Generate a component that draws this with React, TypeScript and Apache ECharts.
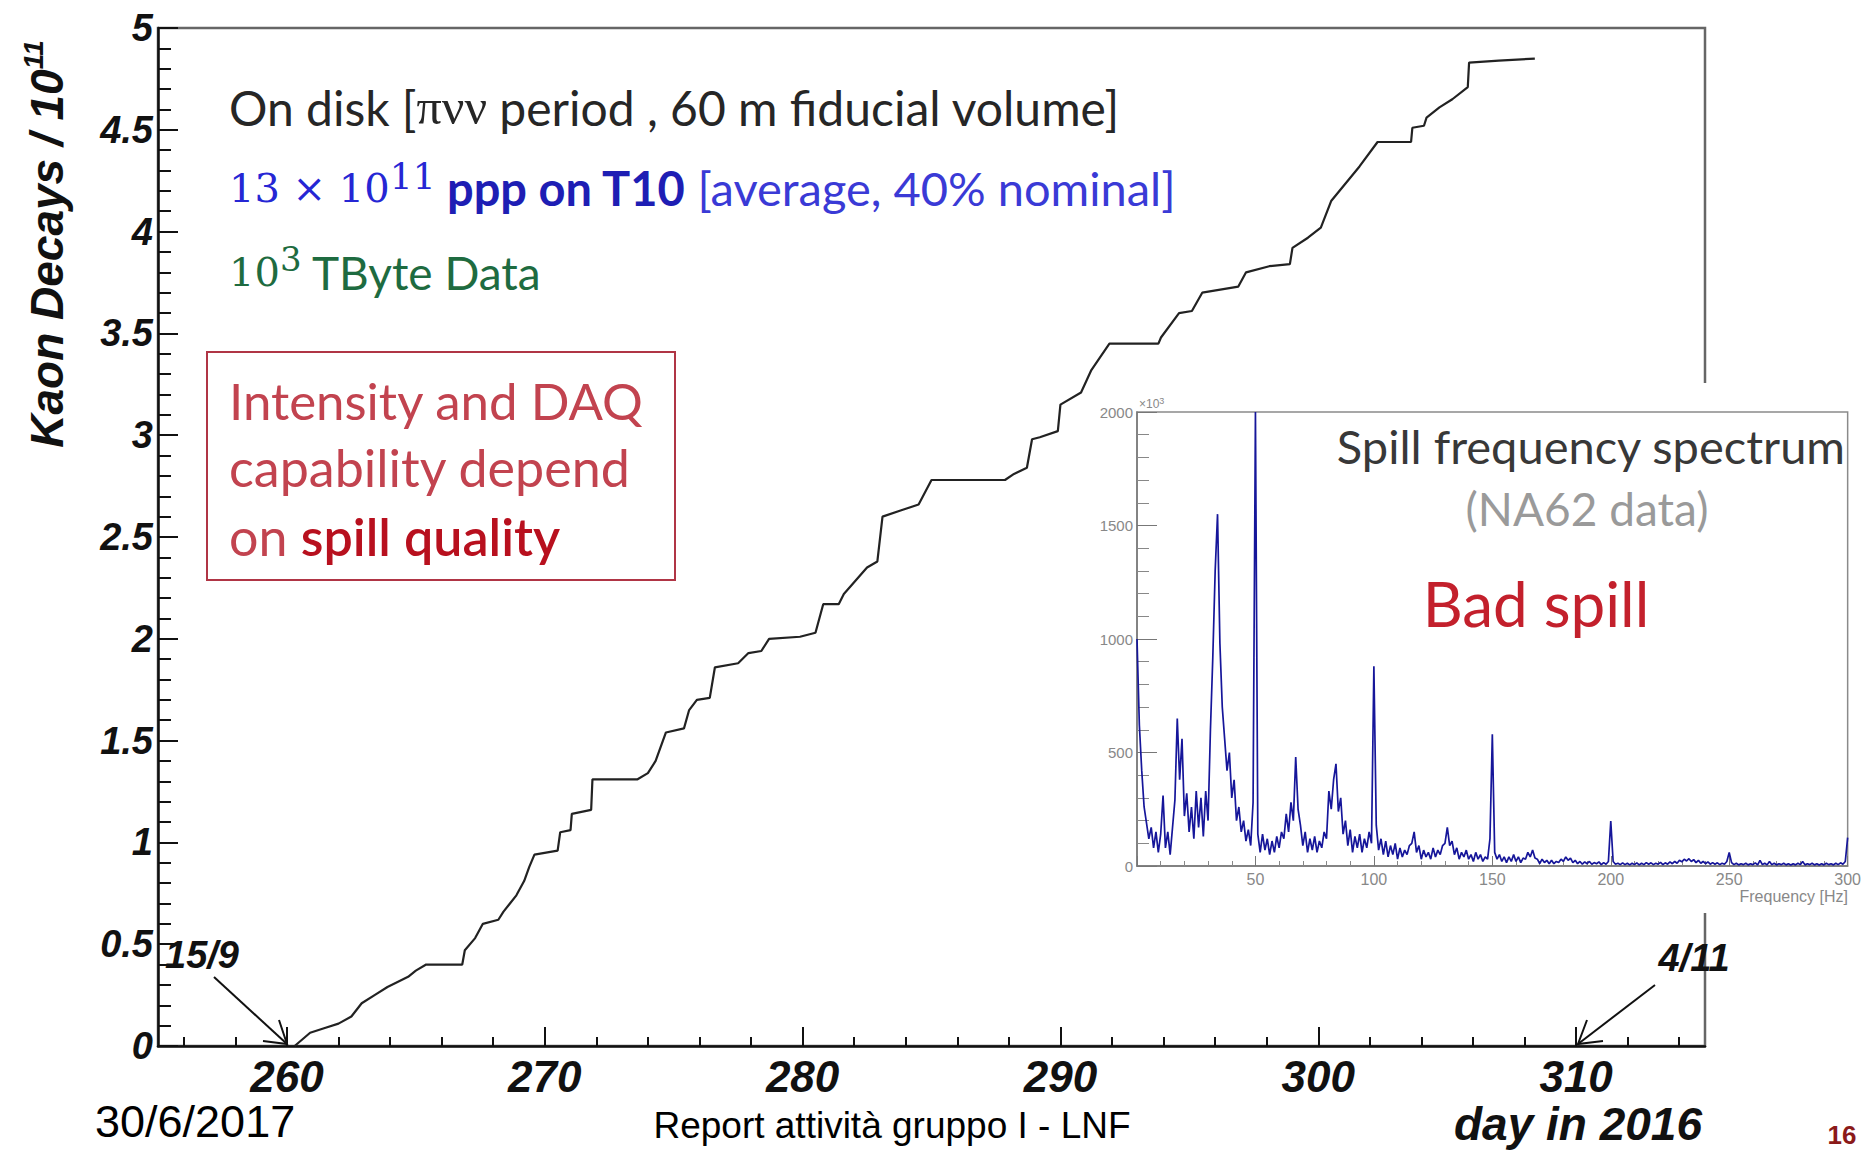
import React, { useEffect, useRef } from 'react';
import * as echarts from 'echarts';

// ---- main chart: cumulative kaon decays (x: day in 2016, y: decays / 1e11)
const DAYS = [260.3, 260.9, 261.5, 262.0, 262.5, 262.9, 263.4, 263.9, 264.7, 265.0, 265.4, 266.8, 266.9, 267.3, 267.6, 268.2, 268.4, 268.65, 268.9, 269.2, 269.4, 269.6, 270.5, 270.6, 271.0, 271.05, 271.8, 271.85, 273.6, 274.0, 274.3, 274.7, 275.4, 275.6, 275.9, 276.4, 276.6, 277.5, 277.9, 278.4, 278.7, 279.9, 280.5, 280.8, 281.4, 281.6, 282.5, 282.9, 283.1, 283.8, 284.5, 285.0, 287.85, 288.2, 288.7, 288.9, 289.2, 289.9, 290.0, 290.8, 291.2, 291.9, 293.8, 293.9, 294.6, 295.1, 295.5, 296.9, 297.2, 298.1, 298.9, 299.0, 299.6, 300.1, 300.5, 301.6, 302.3, 303.6, 303.65, 304.1, 304.2, 304.7, 305.2, 305.8, 305.85, 307.0, 308.4];
const KAON = [0, 0.065, 0.09, 0.11, 0.145, 0.21, 0.25, 0.29, 0.34, 0.37, 0.40, 0.40, 0.47, 0.53, 0.60, 0.62, 0.66, 0.70, 0.74, 0.81, 0.88, 0.94, 0.96, 1.05, 1.06, 1.14, 1.16, 1.31, 1.31, 1.34, 1.40, 1.54, 1.56, 1.65, 1.70, 1.71, 1.86, 1.88, 1.93, 1.94, 2.00, 2.01, 2.03, 2.17, 2.17, 2.22, 2.35, 2.38, 2.60, 2.63, 2.66, 2.78, 2.78, 2.81, 2.84, 2.98, 2.99, 3.02, 3.15, 3.21, 3.32, 3.45, 3.45, 3.48, 3.60, 3.61, 3.70, 3.73, 3.80, 3.83, 3.84, 3.92, 3.97, 4.02, 4.15, 4.32, 4.44, 4.44, 4.51, 4.52, 4.56, 4.61, 4.65, 4.71, 4.83, 4.84, 4.85];
const X_MAJOR = [260, 270, 280, 290, 300, 310];
const X_MINOR = [256, 258, 262, 264, 266, 268, 272, 274, 276, 278, 282, 284, 286, 288, 292, 294, 296, 298, 302, 304, 306, 308, 312, 314];

// ---- inset: spill frequency spectrum, one value per Hz (0..300), units of 10^3
const SPEC = [
  1000, 620, 420, 260, 190, 120, 170, 80, 150, 60,
  140, 310, 80, 150, 50, 170, 290, 650, 380, 560,
  220, 320, 150, 260, 120, 330, 170, 300, 130, 330,
  200, 600, 920, 1300, 1550, 980, 700, 560, 420, 500,
  300, 380, 200, 260, 150, 200, 110, 160, 90, 280,
  2000, 140, 60, 140, 70, 120, 50, 110, 60, 130,
  80, 150, 120, 230, 150, 280, 200, 480, 250, 180,
  90, 150, 60, 120, 70, 130, 60, 110, 80, 150,
  120, 330, 250, 380, 450, 240, 300, 140, 200, 90,
  160, 60, 130, 80, 140, 60, 120, 80, 150, 100,
  880, 180, 70, 120, 50, 110, 40, 90, 50, 100,
  30, 80, 40, 70, 50, 90, 100, 150, 60, 90,
  30, 70, 40, 60, 30, 80, 40, 70, 50, 90,
  100, 170, 90, 110, 50, 80, 30, 60, 40, 70,
  30, 50, 20, 60, 30, 50, 20, 40, 30, 120,
  580, 60, 30, 50, 20, 40, 15, 40, 20, 50,
  20, 40, 15, 35, 30, 60, 40, 70, 35, 30,
  10, 30, 15, 25, 10, 25, 10, 20, 15, 30,
  20, 40, 25, 35, 15, 25, 10, 20, 8, 18,
  10, 20, 8, 15, 10, 18, 6, 15, 8, 20,
  198, 20, 8, 12, 6, 14, 6, 12, 5, 12,
  6, 14, 5, 12, 6, 15, 8, 14, 6, 12,
  8, 16, 6, 14, 8, 18, 10, 20, 12, 25,
  18, 30, 22, 32, 20, 28, 15, 25, 12, 20,
  10, 18, 8, 15, 8, 14, 6, 12, 8, 20,
  60, 15, 6, 12, 5, 10, 6, 12, 5, 10,
  6, 14, 5, 25, 6, 12, 5, 20, 6, 12,
  5, 10, 6, 12, 5, 10, 4, 10, 5, 12,
  6, 20, 5, 10, 6, 12, 5, 10, 4, 10,
  5, 12, 6, 10, 5, 12, 6, 14, 8, 20,
  125,
];

const ARIAL = 'Liberation Sans, Arial, sans-serif';
const SANS = 'Lato, Open Sans, sans-serif';
const SERIF = 'DejaVu Serif, serif';

function txt(x: number, y: number, text: string, style: any, extra: any = {}) {
  return {
    type: 'text',
    x,
    y,
    z: 20,
    ...extra,
    style: {
      text,
      x: 0,
      y: 0,
      align: 'left',
      textAlign: 'left',
      verticalAlign: 'middle',
      textVerticalAlign: 'middle',
      ...style,
    },
  };
}

function buildOption() {
  const lab = { fontFamily: ARIAL, fontWeight: 'bold', fontStyle: 'italic', color: '#111' };
  const labG = { fontFamily: ARIAL, fontWeight: 'bold', fontStyle: 'italic', fill: '#111' };
  const sup = (fill: string, size: number, fam = SERIF) => ({
    fontFamily: fam, fontSize: size, fill, lineHeight: 30, verticalAlign: 'top',
  });
  const tok = (fill: string, size: number, fam = SANS, weight: any = 'normal') => ({
    fontFamily: fam, fontSize: size, fill, fontWeight: weight, lineHeight: 60,
  });

  const graphic: any[] = [
    // white background of the inset picture
    { type: 'rect', z: 5, shape: { x: 1088, y: 383, width: 776, height: 530 }, style: { fill: '#fff' } },
    // y axis title
    txt(47, 244, '{t|Kaon Decays / 10}{s|11}', {
      align: 'center', textAlign: 'center',
      rich: {
        t: { ...labG, fontSize: 46, lineHeight: 56 },
        s: { ...labG, fontSize: 28, lineHeight: 22, verticalAlign: 'top' },
      },
    }, { rotation: Math.PI / 2 }),
    // x axis title
    txt(1578, 1124, 'day in 2016', { ...labG, fontSize: 46, align: 'center', textAlign: 'center' }),
    // date annotations
    txt(202, 955, '15/9', { ...labG, fontSize: 38, align: 'center', textAlign: 'center' }),
    txt(1694, 958, '4/11', { ...labG, fontSize: 38, align: 'center', textAlign: 'center' }),
    { type: 'line', z: 20, shape: { x1: 214, y1: 977, x2: 287, y2: 1044 }, style: { stroke: '#111', lineWidth: 2 } },
    { type: 'polyline', z: 20, shape: { points: [[263, 1041], [287, 1044], [279, 1020]] }, style: { stroke: '#111', lineWidth: 2, fill: 'none' } },
    { type: 'line', z: 20, shape: { x1: 1655, y1: 985, x2: 1578, y2: 1044 }, style: { stroke: '#111', lineWidth: 2 } },
    { type: 'polyline', z: 20, shape: { points: [[1587, 1020], [1578, 1044], [1603, 1041]] }, style: { stroke: '#111', lineWidth: 2, fill: 'none' } },
    // text block
    txt(229, 107, '{a|On disk [}{g|πνν}{a| period , 60 m fiducial volume]}', {
      rich: {
        a: tok('#262626', 48),
        g: tok('#262626', 50, 'Liberation Serif, serif'),
      },
    }),
    txt(229, 188, '{m|13 × 10}{s|11}{b| ppp on T10 }{r|[average, 40% nominal]}', {
      rich: {
        m: tok('#2626d4', 40, SERIF),
        s: sup('#2626d4', 36),
        b: tok('#1e1eb4', 47, SANS, 'bold'),
        r: tok('#3a3ad6', 47),
      },
    }),
    txt(229, 272, '{m|10}{s|3}{a| TByte Data}', {
      rich: {
        m: tok('#1e6b40', 40, SERIF),
        s: sup('#1e6b40', 34),
        a: tok('#1e6b40', 46),
      },
    }),
    // red box
    { type: 'rect', z: 20, shape: { x: 207, y: 352, width: 468, height: 228 }, style: { fill: 'none', stroke: '#b03545', lineWidth: 2 } },
    txt(229, 400, 'Intensity and DAQ', { fontFamily: SANS, fontSize: 51, fill: '#c2434f' }),
    txt(229, 467, 'capability depend', { fontFamily: SANS, fontSize: 52, fill: '#c2434f' }),
    txt(229, 536, '{a|on }{b|spill quality}', {
      rich: {
        a: tok('#c2434f', 52),
        b: tok('#b8101e', 52, SANS, 600),
      },
    }),
    // inset texts
    txt(1845, 446, 'Spill frequency spectrum', { fontFamily: SANS, fontSize: 47, fill: '#383838', align: 'right', textAlign: 'right' }),
    txt(1587, 508, '(NA62 data)', { fontFamily: SANS, fontSize: 46, fill: '#9a9a9a', align: 'center', textAlign: 'center' }),
    txt(1536, 603, 'Bad spill', { fontFamily: SANS, fontSize: 62, fill: '#c3202c', align: 'center', textAlign: 'center' }),
    txt(1139, 404, '{a|×10}{s|3}', {
      rich: {
        a: { fontFamily: ARIAL, fontSize: 12, fill: '#888', lineHeight: 16 },
        s: { fontFamily: ARIAL, fontSize: 9, fill: '#888', lineHeight: 8, verticalAlign: 'top' },
      },
    }),
    txt(1848, 896, 'Frequency [Hz]', { fontFamily: ARIAL, fontSize: 16, fill: '#888', align: 'right', textAlign: 'right' }),
    // footer
    txt(95, 1121, '30/6/2017', { fontFamily: ARIAL, fontSize: 45, lineHeight: 44, fill: '#000' }),
    txt(892, 1125, 'Report attività gruppo I - LNF', { fontFamily: ARIAL, fontSize: 37, fill: '#000', align: 'center', textAlign: 'center' }),
    txt(1842, 1135, '16', { fontFamily: ARIAL, fontSize: 26, fontWeight: 'bold', fill: '#8b1a1a', align: 'center', textAlign: 'center' }),
  ];

  return {
    animation: false,
    backgroundColor: '#fff',
    grid: [
      { left: 158, top: 28, width: 1547, height: 1018, show: true, borderColor: '#666', borderWidth: 2.5, backgroundColor: 'transparent' },
      { left: 1137, top: 412, width: 711, height: 454, show: true, borderColor: '#8a8a8a', borderWidth: 1.5, backgroundColor: 'transparent', z: 11 },
    ],
    xAxis: [
      {
        type: 'value', gridIndex: 0, min: 255, max: 315, position: 'bottom',
        axisLine: { show: true, onZero: false, lineStyle: { color: '#111', width: 2.5 } },
        axisTick: { show: true, inside: true, length: 19, customValues: X_MAJOR, lineStyle: { color: '#111', width: 2 } },
        axisLabel: { customValues: X_MAJOR, margin: 8, fontSize: 44, ...lab },
        splitLine: { show: false },
      },
      {
        type: 'value', gridIndex: 0, min: 255, max: 315, position: 'bottom',
        axisLine: { show: false },
        axisTick: { show: true, inside: true, length: 9, customValues: X_MINOR, lineStyle: { color: '#111', width: 2 } },
        axisLabel: { show: false },
        splitLine: { show: false },
      },
      {
        type: 'value', gridIndex: 1, min: 0, max: 300, interval: 50, z: 12,
        axisLine: { show: true, onZero: false, lineStyle: { color: '#777', width: 1.5 } },
        axisTick: { show: true, inside: true, length: 10, lineStyle: { color: '#777' } },
        minorTick: { show: true, splitNumber: 5, length: 5, lineStyle: { color: '#888' } },
        axisLabel: { showMinLabel: false, fontSize: 16, color: '#888', fontFamily: ARIAL, margin: 5, formatter: (v: number) => String(v) },
        splitLine: { show: false },
      },
    ],
    yAxis: [
      {
        type: 'value', gridIndex: 0, min: 0, max: 5, interval: 0.5,
        axisLine: { show: true, onZero: false, lineStyle: { color: '#111', width: 2.5 } },
        axisTick: { show: true, inside: true, length: 20, lineStyle: { color: '#111', width: 2 } },
        minorTick: { show: true, splitNumber: 5, length: 13, lineStyle: { color: '#111', width: 2 } },
        axisLabel: { margin: 5, fontSize: 38, ...lab, formatter: (v: number) => String(v) },
        splitLine: { show: false },
      },
      {
        type: 'value', gridIndex: 1, min: 0, max: 2000, interval: 500, z: 12,
        axisLine: { show: true, onZero: false, lineStyle: { color: '#777', width: 1.5 } },
        axisTick: { show: true, inside: true, length: 20, lineStyle: { color: '#777' } },
        minorTick: { show: true, splitNumber: 5, length: 12, lineStyle: { color: '#888' } },
        axisLabel: { fontSize: 15, color: '#888', fontFamily: ARIAL, margin: 4, formatter: (v: number) => String(v) },
        splitLine: { show: false },
      },
    ],
    series: [
      {
        type: 'line', xAxisIndex: 0, yAxisIndex: 0, z: 2,
        data: DAYS.map((d, i) => [d, KAON[i]]),
        showSymbol: false, symbol: 'none',
        lineStyle: { color: '#222', width: 2.2 },
      },
      {
        type: 'line', xAxisIndex: 2, yAxisIndex: 1, z: 13,
        data: SPEC.map((v, hz) => [hz, v]),
        showSymbol: false, symbol: 'none',
        lineStyle: { color: '#16169a', width: 1.7 },
      },
    ],
    graphic,
  };
}

export default function App() {
  const ref = useRef<HTMLDivElement>(null);
  useEffect(() => {
    const chart = echarts.init(ref.current as HTMLDivElement, null, { renderer: 'svg' });
    chart.setOption(buildOption() as any);
    return () => chart.dispose();
  }, []);
  return (
    <div
      ref={ref}
      style={{ position: 'fixed', left: 0, top: 0, width: 1864, height: 1151, background: '#fff' }}
    />
  );
}
